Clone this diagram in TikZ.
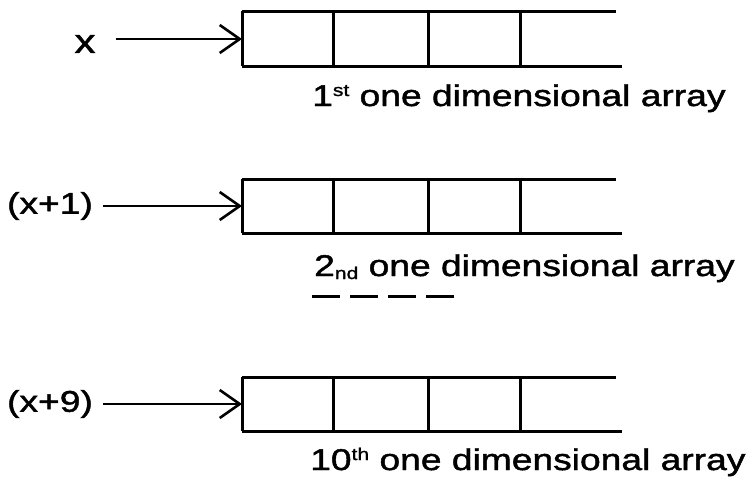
\documentclass[tikz,border=0pt]{standalone}
\usepackage{fontspec}
\setmainfont{Liberation Sans}[FakeStretch=1.24,FakeBold=1.5]
\usetikzlibrary{arrows.meta}
\newcommand\supx[1]{\raisebox{10pt}{\fontsize{17}{17}\selectfont #1}}
\newcommand\subx[1]{\raisebox{-3pt}{\fontsize{17}{17}\selectfont #1}}
\tikzset{
  lbl/.style={inner sep=0pt, font=\fontsize{30}{32}\selectfont},
  captxt/.style={inner sep=0pt, anchor=base west, font=\fontsize{30}{32}\selectfont},
  ptr/.style={line width=2.6pt, -{Straight Barb[length=20pt,width=28pt,line width=2.6pt]}},
  cell/.style={line width=3pt},
  dots/.style={line width=3pt, dash pattern=on 28pt off 10pt}
}
\begin{document}
\begin{tikzpicture}[x=1pt,y=-1pt]
\useasboundingbox (0,0) rectangle (750,480);
% row 1
\node[lbl, font=\fontsize{34}{36}\selectfont] (x1) at (85,44) {x};
\coordinate (b1) at (242,39);
\draw[ptr] ([xshift=20pt]x1.east |- b1) -- (b1);
\draw[cell] (242,11) -- (616,11) (242,66) -- (622,66) (242,11) -- (242,66)
  (333,11) -- (333,66) (428,11) -- (428,66) (520,11) -- (520,66);
\node[captxt] (c1) at (312,106) {1\supx{st} one dimensional array};
% row 2
\node[lbl] (x2) at (50,206) {(x+1)};
\coordinate (b2) at (242,206);
\draw[ptr] ([xshift=10pt]x2.east |- b2) -- (b2);
\draw[cell] (242,179) -- (616,179) (242,233) -- (622,233) (242,179) -- (242,233)
  (333,179) -- (333,233) (428,179) -- (428,233) (520,179) -- (520,233);
\node[captxt] (c2) at (314,276) {2\subx{nd} one dimensional array};
% dashes
\coordinate (d1) at (312,296);
\coordinate (d2) at (456,296);
\draw[dots] (d1) -- (d2);
% row 3
\node[lbl] (x3) at (50,404) {(x+9)};
\coordinate (b3) at (242,404);
\draw[ptr] ([xshift=10pt]x3.east |- b3) -- (b3);
\draw[cell] (242,377) -- (616,377) (242,431) -- (622,431) (242,377) -- (242,431)
  (333,377) -- (333,431) (428,377) -- (428,431) (520,377) -- (520,431);
\node[captxt] (c3) at (310,470) {10\supx{th} one dimensional array};
\end{tikzpicture}
\end{document}
